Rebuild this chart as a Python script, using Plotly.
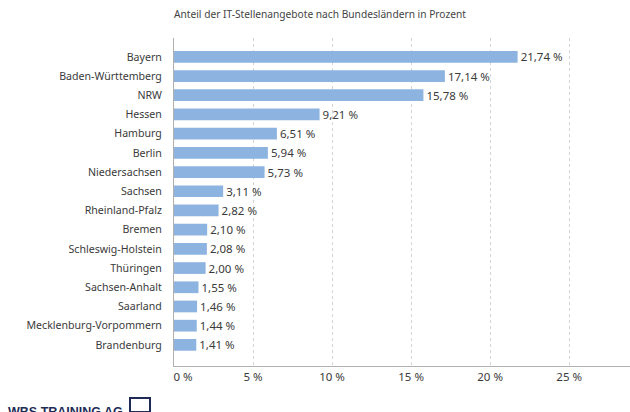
import plotly.graph_objects as go

laender = ["Bayern", "Baden-Württemberg", "NRW", "Hessen", "Hamburg", "Berlin",
           "Niedersachsen", "Sachsen", "Rheinland-Pfalz", "Bremen", "Schleswig-Holstein",
           "Thüringen", "Sachsen-Anhalt", "Saarland", "Mecklenburg-Vorpommern", "Brandenburg"]
anteile = [21.74, 17.14, 15.78, 9.21, 6.51, 5.94, 5.73, 3.11, 2.82, 2.10, 2.08,
           2.00, 1.55, 1.46, 1.44, 1.41]
tick_vals = [0, 5, 10, 15, 20, 25]
tick_text = ["0 %", "5 %", "10 %", "15 %", "20 %", "25 %"]
subtitle = "Anteil der IT-Stellenangebote nach Bundesländern in Prozent"

labels = [f"{v:.2f}".replace(".", ",") + " %" for v in anteile]
FONT = "Noto Sans"
TXT = "#3a3a3a"
# first tick label sits just right of the axis in the original
tick_disp = ["\u00a0" * 6 + tick_text[0]] + tick_text[1:]

L, R, T, B = 174, 0, 38, 46
PW, PH = 630 - L - R, 412 - T - B

fig = go.Figure(go.Bar(
    x=anteile, y=laender, orientation="h",
    marker=dict(color="#8db4e0", line=dict(width=0)),
    width=0.61,
    text=labels, textposition="outside", cliponaxis=False,
    constraintext="none",
    textfont=dict(family=FONT, size=11.5, color=TXT),
))

fig.update_layout(
    width=630, height=412,
    margin=dict(l=L, r=R, t=T, b=B, autoexpand=False),
    paper_bgcolor="white", plot_bgcolor="white",
    font=dict(family=FONT, size=11, color=TXT),
    showlegend=False,
)
fig.update_xaxes(
    range=[0, 28.85], tickvals=tick_vals, ticktext=tick_disp,
    showgrid=True, gridcolor="#d4d4d4", griddash="3px,3px", gridwidth=1,
    showline=True, linecolor="#b0b0b0", linewidth=1,
    zeroline=False, ticks="", automargin=False,
    tickfont=dict(family=FONT, size=11.5, color=TXT),
)
fig.update_yaxes(
    categoryorder="array", categoryarray=laender,
    range=[15 + 1.10, -0.98],
    showline=True, linecolor="#b0b0b0", linewidth=1,
    showgrid=False, ticks="", ticklabelstandoff=9, automargin=False,
    tickfont=dict(family=FONT, size=10.6, color=TXT),
)

fig.add_annotation(
    text=subtitle, xref="paper", yref="paper", x=(320 - L) / PW, y=1.0,
    yshift=T - 14, yanchor="middle", xanchor="center", showarrow=False,
    font=dict(family=FONT, size=10.2, color="#444444"),
)
fig.add_annotation(
    text="<b>WBS TRAINING AG</b>", xref="paper", yref="paper",
    x=0, xshift=-(L - 6), y=0, yshift=-37, yanchor="top", xanchor="left",
    showarrow=False,
    font=dict(family="Liberation Sans", size=12.5, color="#1d2b56"),
)
fig.add_shape(
    type="rect", xref="paper", yref="paper",
    x0=(130 - L) / PW, x1=(150 - L) / PW, y0=-46 / PH, y1=-32 / PH,
    line=dict(color="#1d2b56", width=2), fillcolor="white",
)

fig.write_html("out.html", post_script="document.body.style.margin='0';",
               config={"displayModeBar": False})
